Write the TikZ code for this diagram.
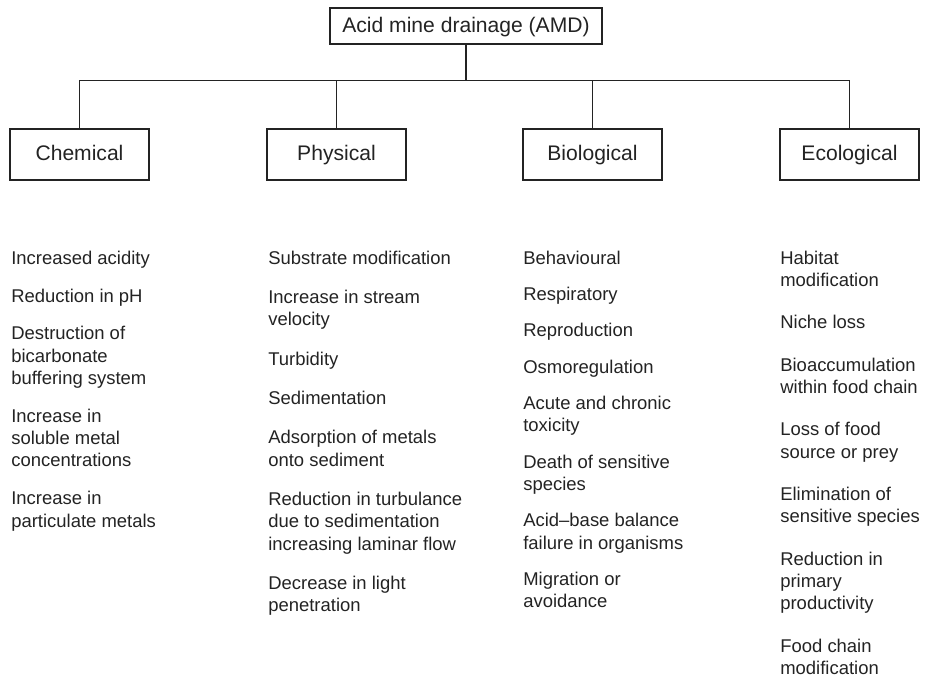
\documentclass[tikz,border=0pt]{standalone}
\usepackage{fontspec}
\setmainfont{Liberation Sans}
\usepackage{xcolor}
\usepackage{tikz}
\usetikzlibrary{positioning}
\definecolor{inkgray}{RGB}{35,35,35}

\begin{document}
\begin{tikzpicture}[font=\fontsize{12}{14}\selectfont,text=inkgray,
  catbox/.style={draw=inkgray,line width=0.6pt,minimum width=2.78cm,minimum height=1.02cm,inner sep=0pt,text height=0.716em,text depth=0pt},
  itemlist/.style={align=left,inner sep=0pt,font=\fontsize{10.5}{12.7}\selectfont},
  treeline/.style={draw=inkgray,line width=0.6pt}]
\useasboundingbox (0,0) rectangle (18.6,-13.6);
% root and the four groups
\node[catbox,minimum width=5.44cm,minimum height=0.72cm] (amd) at (9.32,-0.52) {Acid mine drainage (AMD)};
\coordinate (bus) at (9.32,-1.61);
\node[catbox] (chem) at (1.59,-3.09) {Chemical};
\node[catbox] (phys) at (6.73,-3.09) {Physical};
\node[catbox] (bio) at (11.85,-3.09) {Biological};
\node[catbox] (eco) at (16.99,-3.09) {Ecological};
\draw[treeline] (amd.south) -- (bus);
\draw[treeline] (chem.north) |- (bus) -| (eco.north);
\draw[treeline] (phys.north) -- (phys.north |- bus);
\draw[treeline] (bio.north) -- (bio.north |- bus);
% effect lists
\node[itemlist,below right=1.4cm and 0.03cm of chem.south west] (chemlist) {Increased acidity\\[0.31cm]
  Reduction in pH\\[0.31cm]
  Destruction of\\bicarbonate\\buffering system\\[0.31cm]
  Increase in\\soluble metal\\concentrations\\[0.31cm]
  Increase in\\particulate metals};
\node[itemlist,below right=1.4cm and 0.03cm of phys.south west] (physlist) {Substrate modification\\[0.34cm]
  Increase in stream\\velocity\\[0.34cm]
  Turbidity\\[0.34cm]
  Sedimentation\\[0.34cm]
  Adsorption of metals\\onto sediment\\[0.34cm]
  Reduction in turbulance\\due to sedimentation\\increasing laminar flow\\[0.34cm]
  Decrease in light\\penetration};
\node[itemlist,below right=1.4cm and 0.01cm of bio.south west] (biolist) {Behavioural\\[0.28cm]
  Respiratory\\[0.28cm]
  Reproduction\\[0.28cm]
  Osmoregulation\\[0.28cm]
  Acute and chronic\\toxicity\\[0.28cm]
  Death of sensitive\\species\\[0.28cm]
  Acid--base balance\\failure in organisms\\[0.28cm]
  Migration or\\avoidance};
\node[itemlist,below right=1.4cm and 0.01cm of eco.south west] (ecolist) {Habitat\\modification\\[0.4cm]
  Niche loss\\[0.4cm]
  Bioaccumulation\\within food chain\\[0.4cm]
  Loss of food\\source or prey\\[0.4cm]
  Elimination of\\sensitive species\\[0.4cm]
  Reduction in\\primary\\productivity\\[0.4cm]
  Food chain\\modification};
\end{tikzpicture}
\end{document}
